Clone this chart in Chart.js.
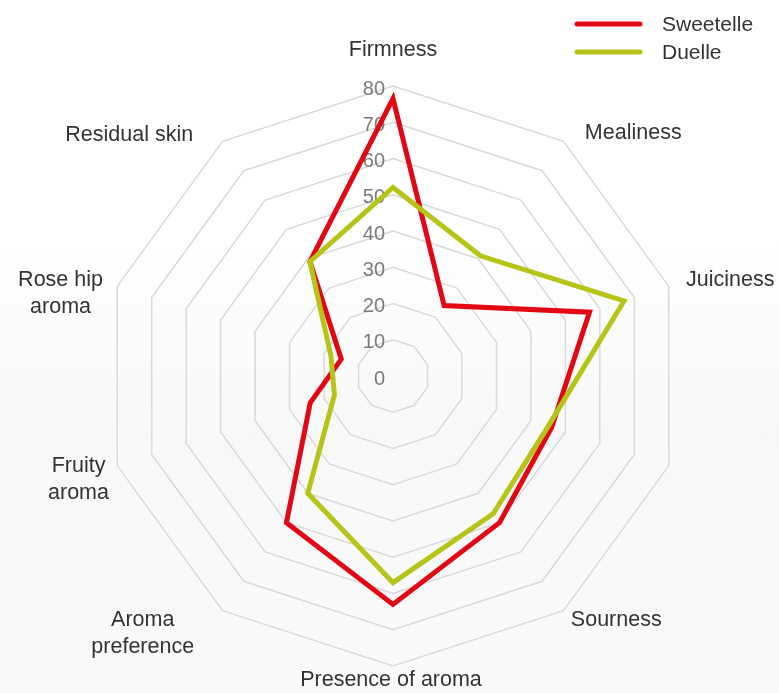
<!DOCTYPE html>
<html>
<head>
<meta charset="utf-8">
<script src="https://cdn.jsdelivr.net/npm/chart.js@4"></script>
<style>
  html, body { margin: 0; padding: 0; }
  body { width: 779px; height: 693px; background: linear-gradient(#ffffff 0, #ffffff 230px, #f8f8f8 430px, #fafafa 693px); }
  canvas { display: block; }
</style>
</head>
<body>
<canvas id="chart" width="779" height="693"></canvas>
<script>
// categories (one axis has no label in the source)
const categories = ['Firmness', 'Mealiness', 'Juiciness', '', 'Sourness', 'Presence of aroma',
  ['Aroma', 'preference'], ['Fruity', 'aroma'], ['Rose hip', 'aroma'], 'Residual skin'];

// series values
const sweetelle = [76.5, 24, 57, 46, 50, 63, 50, 24, 15, 39];
const duelle    = [52, 41, 67, 45, 47, 57, 40, 17, 18, 39];

// tick labels
const tickValues = [0, 10, 20, 30, 40, 50, 60, 70, 80];

const FONT = '"Liberation Sans", Arial, Helvetica, sans-serif';

// small hand nudges for the axis names, in px [dx, dy]
const labelNudge = [[0, -20], [12, 5], [2, -1], [0, 0], [-2, -3], [-2, -2], [-19, -3], [7, -4], [1, -1], [-20, 7]];

// draws tick numbers, axis names and the legend
const textPlugin = {
  id: 'radarText',
  beforeDatasetsDraw(chart) {
    const s = chart.scales.r;
    const ctx = chart.ctx;
    ctx.save();

    // scale numbers, left of the vertical axis
    ctx.font = '20px ' + FONT;
    ctx.fillStyle = '#7a7a7a';
    ctx.textAlign = 'right';
    ctx.textBaseline = 'middle';
    tickValues.forEach(v => {
      const y = s.yCenter - s.getDistanceFromCenterForValue(v);
      ctx.fillText(String(v), s.xCenter - 8, y + 3);
    });

    // axis names, each line centred inside its block
    ctx.font = '21.5px ' + FONT;
    ctx.fillStyle = '#333333';
    ctx.textAlign = 'center';
    const lineH = 27;
    chart.data.labels.forEach((lab, i) => {
      const lines = Array.isArray(lab) ? lab : [lab];
      if (!lines[0]) return;
      const a = i * 2 * Math.PI / chart.data.labels.length;
      const sinA = Math.sin(a);
      const p = s.getPointPosition(i, s.drawingArea + 16);
      const w = Math.max(...lines.map(t => ctx.measureText(t).width));
      let cx = p.x;
      if (sinA > 0.01) cx += w / 2;
      else if (sinA < -0.01) cx -= w / 2;
      cx += labelNudge[i][0];
      const y = p.y + labelNudge[i][1];
      lines.forEach((t, k) => ctx.fillText(t, cx, y + k * lineH));
    });
    ctx.restore();
  },
  afterDraw(chart) {
    const ctx = chart.ctx;
    ctx.save();
    ctx.font = '21px ' + FONT;
    ctx.textAlign = 'left';
    ctx.textBaseline = 'middle';
    ctx.lineCap = 'round';
    ctx.lineWidth = 5;
    chart.data.datasets.forEach((ds, i) => {
      const y = 24 + i * 28;
      ctx.strokeStyle = ds.borderColor;
      ctx.beginPath();
      ctx.moveTo(577, y);
      ctx.lineTo(640, y);
      ctx.stroke();
      ctx.fillStyle = '#333333';
      ctx.fillText(ds.label, 662, y + 1);
    });
    ctx.restore();
  }
};

new Chart(document.getElementById('chart'), {
  type: 'radar',
  data: {
    labels: categories,
    datasets: [
      {
        label: 'Sweetelle',
        data: sweetelle,
        borderColor: '#e30613',
        backgroundColor: 'rgba(0,0,0,0)',
        borderWidth: 5,
        borderJoinStyle: 'miter',
        pointRadius: 0,
        fill: false,
        order: 2
      },
      {
        label: 'Duelle',
        data: duelle,
        borderColor: '#b6c417',
        backgroundColor: 'rgba(0,0,0,0)',
        borderWidth: 5,
        borderJoinStyle: 'miter',
        pointRadius: 0,
        fill: false,
        order: 1
      }
    ]
  },
  options: {
    responsive: false,
    animation: false,
    layout: { padding: { left: 103, right: 96, top: 86, bottom: 27 } },
    elements: { line: { tension: 0 } },
    plugins: {
      legend: { display: false },
      tooltip: { enabled: false }
    },
    scales: {
      r: {
        min: 0,
        max: 80,
        ticks: { display: false, stepSize: 10 },
        pointLabels: { display: false },
        angleLines: { display: false },
        grid: { color: '#d9d9d9', lineWidth: 1.5 }
      }
    }
  },
  plugins: [textPlugin]
});
</script>
</body>
</html>
